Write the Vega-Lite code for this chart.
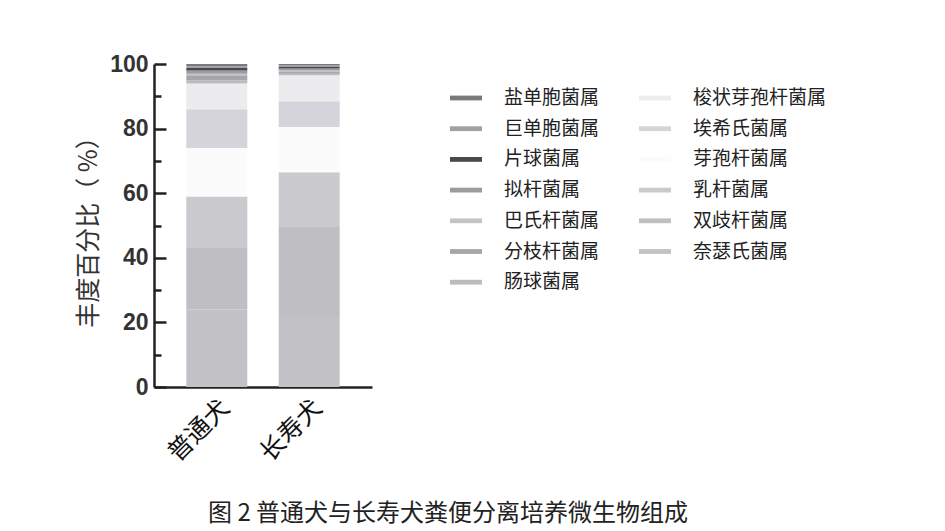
{
  "$schema": "https://vega.github.io/schema/vega-lite/v6.json",
  "width": 218,
  "height": 323,
  "autosize": {"type": "none"},
  "padding": {"left": 154, "top": 64, "right": 573, "bottom": 144},
  "background": "white",
  "title": {
    "text": "图 2 普通犬与长寿犬粪便分离培养微生物组成",
    "orient": "bottom",
    "anchor": "start",
    "frame": "group",
    "dx": 54,
    "offset": 36,
    "font": "Noto Sans CJK SC",
    "fontSize": 24,
    "fontWeight": "normal",
    "color": "#222"
  },
  "data": {
    "values": [
      {"group": "普通犬", "genus": "奈瑟氏菌属", "rank": 1, "value": 24},
      {"group": "普通犬", "genus": "双歧杆菌属", "rank": 2, "value": 19},
      {"group": "普通犬", "genus": "乳杆菌属", "rank": 3, "value": 16},
      {"group": "普通犬", "genus": "芽孢杆菌属", "rank": 4, "value": 15},
      {"group": "普通犬", "genus": "埃希氏菌属", "rank": 5, "value": 12},
      {"group": "普通犬", "genus": "梭状芽孢杆菌属", "rank": 6, "value": 8},
      {"group": "普通犬", "genus": "肠球菌属", "rank": 7, "value": 1},
      {"group": "普通犬", "genus": "分枝杆菌属", "rank": 8, "value": 1.5},
      {"group": "普通犬", "genus": "巴氏杆菌属", "rank": 9, "value": 0.5},
      {"group": "普通犬", "genus": "拟杆菌属", "rank": 10, "value": 1},
      {"group": "普通犬", "genus": "片球菌属", "rank": 11, "value": 0.8},
      {"group": "普通犬", "genus": "巨单胞菌属", "rank": 12, "value": 0.5},
      {"group": "普通犬", "genus": "盐单胞菌属", "rank": 13, "value": 0.7},
      {"group": "长寿犬", "genus": "奈瑟氏菌属", "rank": 1, "value": 22},
      {"group": "长寿犬", "genus": "双歧杆菌属", "rank": 2, "value": 27.5},
      {"group": "长寿犬", "genus": "乳杆菌属", "rank": 3, "value": 17},
      {"group": "长寿犬", "genus": "芽孢杆菌属", "rank": 4, "value": 14},
      {"group": "长寿犬", "genus": "埃希氏菌属", "rank": 5, "value": 8},
      {"group": "长寿犬", "genus": "梭状芽孢杆菌属", "rank": 6, "value": 8},
      {"group": "长寿犬", "genus": "肠球菌属", "rank": 7, "value": 0.5},
      {"group": "长寿犬", "genus": "分枝杆菌属", "rank": 8, "value": 0.5},
      {"group": "长寿犬", "genus": "巴氏杆菌属", "rank": 9, "value": 0.5},
      {"group": "长寿犬", "genus": "拟杆菌属", "rank": 10, "value": 0.6},
      {"group": "长寿犬", "genus": "片球菌属", "rank": 11, "value": 0.5},
      {"group": "长寿犬", "genus": "巨单胞菌属", "rank": 12, "value": 0.4},
      {"group": "长寿犬", "genus": "盐单胞菌属", "rank": 13, "value": 0.5}
    ]
  },
  "mark": {"type": "bar"},
  "encoding": {
    "x": {
      "field": "group",
      "type": "nominal",
      "sort": ["普通犬", "长寿犬"],
      "scale": {"paddingInner": 0.34, "paddingOuter": 0.35},
      "axis": {
        "title": null,
        "ticks": false,
        "labelAngle": -45,
        "labelFont": "Noto Sans CJK SC",
        "labelFontSize": 25,
        "labelColor": "#111",
        "labelPadding": 8,
        "domainColor": "#222",
        "domainWidth": 2.5
      }
    },
    "y": {
      "field": "value",
      "type": "quantitative",
      "stack": "zero",
      "scale": {"domain": [0, 100], "nice": false},
      "axis": {
        "title": "丰度百分比（ %）",
        "titleFont": "Noto Sans CJK SC",
        "titleFontSize": 25,
        "titleFontWeight": "normal",
        "titleColor": "#333",
        "titlePadding": 8,
        "values": [0, 10, 20, 30, 40, 50, 60, 70, 80, 90, 100],
        "labelExpr": "datum.value % 20 === 0 ? datum.label : ''",
        "labelFont": "Liberation Sans",
        "labelFontWeight": "bold",
        "labelFontSize": 23,
        "labelColor": "#333",
        "labelPadding": 18,
        "grid": false,
        "tickSize": {"condition": {"test": "datum.value % 20 === 0", "value": -12}, "value": -7},
        "tickWidth": 2.5,
        "tickColor": "#222",
        "domainColor": "#222",
        "domainWidth": 2.5
      }
    },
    "color": {
      "field": "genus",
      "type": "nominal",
      "scale": {
        "domain": ["盐单胞菌属", "巨单胞菌属", "片球菌属", "拟杆菌属", "巴氏杆菌属", "分枝杆菌属", "肠球菌属", "梭状芽孢杆菌属", "埃希氏菌属", "芽孢杆菌属", "乳杆菌属", "双歧杆菌属", "奈瑟氏菌属"],
        "range": ["#7a7a7e", "#a0a0a4", "#4a4a4e", "#9c9ca0", "#c4c4c8", "#a6a6aa", "#bcbcc0", "#ececef", "#d4d4da", "#fbfbfb", "#cacace", "#bebec3", "#c2c2c6"]
      },
      "legend": {
        "title": null,
        "orient": "none",
        "legendX": 296,
        "legendY": 18,
        "columns": 2,
        "columnPadding": 39,
        "rowPadding": 4.7,
        "symbolType": "M-1,-0.15L1,-0.15L1,0.15L-1,0.15Z",
        "symbolSize": 1024,
        "symbolStrokeWidth": 0,
        "labelOffset": 22,
        "labelFont": "Noto Sans CJK SC",
        "labelFontSize": 19,
        "labelColor": "#222",
        "labelLimit": 300
      }
    },
    "order": {"field": "rank", "type": "quantitative"}
  },
  "config": {
    "view": {"stroke": null}
  }
}
